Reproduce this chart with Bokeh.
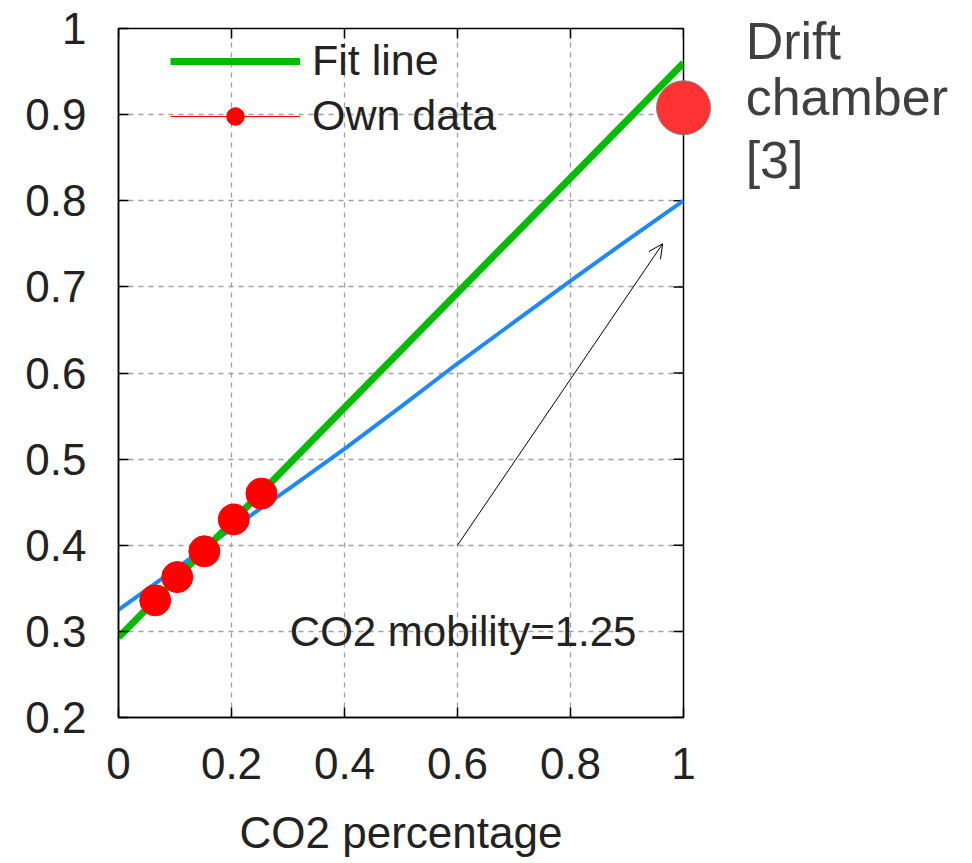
import math
from bokeh.plotting import figure
from bokeh.models import (FixedTicker, Legend, LegendItem, Label,
                          Arrow, OpenHead, Range1d, ColumnDataSource)
from bokeh.core.properties import value
from bokeh.embed import file_html
from bokeh.resources import INLINE

# ---- data ----
own_x = [0.065, 0.104, 0.152, 0.204, 0.253]
own_y = [0.336, 0.363, 0.393, 0.430, 0.460]
fit_x = [0.0, 1.0]
fit_y = [0.293, 0.960]
blue_x = [0.0, 0.1, 0.2, 0.3, 0.4, 0.5, 0.6, 0.7, 0.8, 0.9, 1.0]
blue_y = [0.325, 0.372, 0.419, 0.465, 0.512, 0.561, 0.611, 0.659, 0.707, 0.754, 0.800]
drift_x = [1.0]
drift_y = [0.908]
arrow_start = (0.60, 0.400)
arrow_end = (0.963, 0.750)
x_ticks = [0.0, 0.2, 0.4, 0.6, 0.8, 1.0]
x_tick_labels = ["0", "0.2", "0.4", "0.6", "0.8", "1"]
y_ticks = [0.2, 0.3, 0.4, 0.5, 0.6, 0.7, 0.8, 0.9, 1.0]
y_tick_labels = ["0.2", "0.3", "0.4", "0.5", "0.6", "0.7", "0.8", "0.9", "1"]
annotation_text = "CO2 mobility=1.25"
drift_text = ["Drift", "chamber", "[3]"]

FONT = "Liberation Sans"
TXT = "#222222"

X0, X1 = 0.0, 1.0
Y0, Y1 = 0.2, 1.0

p = figure(width=972, height=863, output_backend="svg", toolbar_location=None,
           x_range=Range1d(X0, X1), y_range=Range1d(Y0, Y1),
           min_border_left=118, min_border_right=289, min_border_top=28,
           min_border_bottom=146)
p.background_fill_color = "white"
p.border_fill_color = "white"
p.outline_line_color = "black"
p.outline_line_width = 1.5

# grid
for g in (p.xgrid[0], p.ygrid[0]):
    g.grid_line_color = "#a0a0a0"
    g.grid_line_dash = "5 5"
    g.grid_line_width = 1.3
p.xgrid[0].ticker = FixedTicker(ticks=x_ticks)
p.ygrid[0].ticker = FixedTicker(ticks=y_ticks)

def style_axis(ax, ticks, labels):
    ax.ticker = FixedTicker(ticks=ticks)
    ax.major_label_overrides = {t: l for t, l in zip(ticks, labels)}
    ax.major_tick_in = 10
    ax.major_tick_out = 0
    ax.major_tick_line_width = 1.5
    ax.major_tick_line_color = "black"
    ax.minor_tick_line_color = None
    ax.axis_line_color = "black"
    ax.axis_line_width = 1.5
    ax.major_label_text_font = FONT
    ax.major_label_text_font_size = "44px"
    ax.major_label_text_color = TXT

style_axis(p.xaxis[0], x_ticks, x_tick_labels)
p.xaxis[0].major_label_standoff = 30
p.xaxis[0].axis_label = "CO2 percentage"
p.xaxis[0].axis_label_text_font = FONT
p.xaxis[0].axis_label_text_font_size = "44px"
p.xaxis[0].axis_label_text_font_style = "normal"
p.xaxis[0].axis_label_text_color = TXT
p.xaxis[0].axis_label_standoff = 26

style_axis(p.yaxis[0], y_ticks, y_tick_labels)
p.yaxis[0].major_label_standoff = 32

# mirrored inward ticks on the top and right borders (half of each dash is clipped by the frame)
p.scatter(x_ticks, [Y1] * len(x_ticks), marker="dash", size=20, angle=math.pi / 2,
          line_color="black", line_width=1.5)
p.scatter([X1] * len(y_ticks), y_ticks, marker="dash", size=20, angle=0,
          line_color="black", line_width=1.5)

# lines
blue_r = p.line(blue_x, blue_y, line_color="#1e88ff", line_width=4)
fit_r = p.line(fit_x, fit_y, line_color="#00bb00", line_width=7)

# own data
own_src = ColumnDataSource(dict(x=own_x, y=own_y))
own_line = p.line("x", "y", source=own_src, line_color="#ff0000", line_width=1.2)
own_line.visible = False
own_pts = p.scatter("x", "y", source=own_src, size=31, marker="circle",
                    fill_color="#ff0000", line_color="#ff0000")

# drift chamber point
drift_r = p.scatter(drift_x, drift_y, size=54, marker="circle",
                    fill_color="#ff3333", line_color="#888888", line_width=1)
drift_r.level = "overlay"

# arrow
p.add_layout(Arrow(end=OpenHead(size=14, line_width=1, line_color="black"),
                   x_start=arrow_start[0], y_start=arrow_start[1],
                   x_end=arrow_end[0], y_end=arrow_end[1],
                   line_width=1, line_color="black"))

p.add_layout(Label(x=0.61, y=0.30, text=annotation_text, text_font=FONT,
                   text_font_size="42px", text_color=TXT, text_align="center",
                   text_baseline="middle"))

drift_src = ColumnDataSource(dict(x=[1.11] * 3, y=[0.986, 0.920, 0.847], t=drift_text))
drift_txt = p.text("x", "y", text="t", source=drift_src, text_font=value(FONT),
                   text_font_size="52px", text_color="#404040",
                   text_align="left", text_baseline="middle")
drift_txt.level = "overlay"

legend = Legend(items=[LegendItem(label="Fit line", renderers=[fit_r]),
                       LegendItem(label="Own data", renderers=[own_line, own_pts])],
                location=(52, 577))
legend.label_text_font = FONT
legend.label_text_font_size = "43px"
legend.label_text_color = TXT
legend.glyph_width = 130
legend.glyph_height = 44
legend.label_height = 44
legend.spacing = 6
legend.border_line_color = None
legend.background_fill_alpha = 0
legend.margin = 0
legend.padding = 4
legend.label_standoff = 12
p.add_layout(legend, "center")

open("out.html", "w").write(file_html(p, INLINE))
